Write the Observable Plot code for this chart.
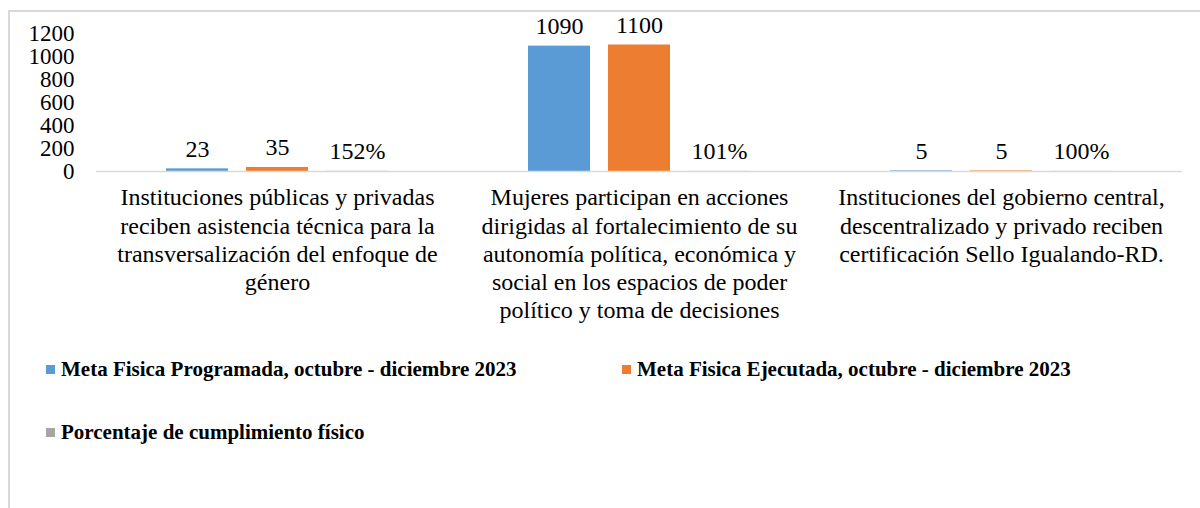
<!DOCTYPE html>
<html><head><meta charset="utf-8">
<script src="https://cdn.jsdelivr.net/npm/d3@7"></script>
<script src="https://cdn.jsdelivr.net/npm/@observablehq/plot@0.6"></script>
<style>
body{margin:0;background:#fff;font-family:"Liberation Serif","Times New Roman",serif;}
#wrap{position:relative;width:1200px;height:508px;overflow:hidden;background:#fff;}
#frame{position:absolute;left:8px;top:10px;width:1300px;height:600px;border-top:2px solid #d9d9d9;border-left:2px solid #d9d9d9;}
#chart{position:absolute;left:0;top:0;}
#legend{position:absolute;left:0;top:330px;width:1200px;height:178px;}
.item{position:absolute;display:flex;align-items:center;font-weight:bold;font-size:21px;line-height:24px;color:#000;white-space:nowrap;}
.sw{width:9px;height:9px;margin-right:6px;flex:none;}
</style></head><body>
<div id="wrap"><div id="frame"></div><div id="chart"></div><div id="legend"></div></div>
<script>
const categories = [
  "Instituciones públicas y privadas\nreciben asistencia técnica para la\ntransversalización del enfoque de\ngénero",
  "Mujeres participan en acciones\ndirigidas al fortalecimiento de su\nautonomía política, económica y\nsocial en los espacios de poder\npolítico y toma de decisiones",
  "Instituciones del gobierno central,\ndescentralizado y privado reciben\ncertificación Sello Igualando-RD."
];
const seriesNames = [
  "Meta Fisica Programada, octubre - diciembre 2023",
  "Meta Fisica Ejecutada, octubre - diciembre 2023",
  "Porcentaje de cumplimiento físico"
];
const programada = [23, 1090, 5];
const ejecutada = [35, 1100, 5];
const porcentaje = [1.52, 1.01, 1.00];
const yTicks = [0, 200, 400, 600, 800, 1000, 1200];
const colors = ["#5b9bd5", "#ed7d31", "#a5a5a5"];

const pct = d3.format(".0%");
const rows = [];
categories.forEach((c, i) => {
  rows.push({category: c, series: seriesNames[0], value: programada[i], label: String(programada[i])});
  rows.push({category: c, series: seriesNames[1], value: ejecutada[i], label: String(ejecutada[i])});
  rows.push({category: c, series: seriesNames[2], value: porcentaje[i], label: pct(porcentaje[i])});
});

const serif = "Liberation Serif";
const chart = Plot.plot({
  width: 1200, height: 330,
  marginLeft: 95, marginRight: 17, marginTop: 33, marginBottom: 159,
  style: {fontFamily: serif, fontSize: "20px", color: "#000", background: "transparent"},
  fx: {domain: categories, padding: 0, label: null},
  x: {domain: seriesNames, paddingInner: 0.22, paddingOuter: 0.86, axis: null},
  y: {domain: [0, 1200]},
  color: {domain: seriesNames, range: colors},
  marks: [
    Plot.axisY({ticks: yTicks, tickSize: 0, tickPadding: 22, label: null, fontSize: 23, fontFamily: serif, tickFormat: d => String(d)}),
    Plot.axisFx({anchor: "bottom", tickSize: 0, tickPadding: 14, label: null, lineHeight: 1.17, fontSize: 24, fontFamily: serif}),
    Plot.barY(rows, {fx: "category", x: "series", y: "value", fill: "series"}),
    Plot.ruleY([0], {stroke: "#d9d9d9", strokeWidth: 1.5}),
    Plot.text(rows, {fx: "category", x: "series", y: "value", text: "label", dy: -20, fontSize: 24, fontFamily: serif, fill: "#000"})
  ]
});
document.getElementById("chart").appendChild(chart);

const legend = document.getElementById("legend");
const pos = [[46, 27], [622, 27], [46, 90]];
seriesNames.forEach((s, i) => {
  const it = document.createElement("div");
  it.className = "item";
  it.style.left = pos[i][0] + "px";
  it.style.top = pos[i][1] + "px";
  const sw = document.createElement("span");
  sw.className = "sw";
  sw.style.background = colors[i];
  const t = document.createElement("span");
  t.textContent = s;
  it.appendChild(sw); it.appendChild(t);
  legend.appendChild(it);
});
</script>
</body></html>
